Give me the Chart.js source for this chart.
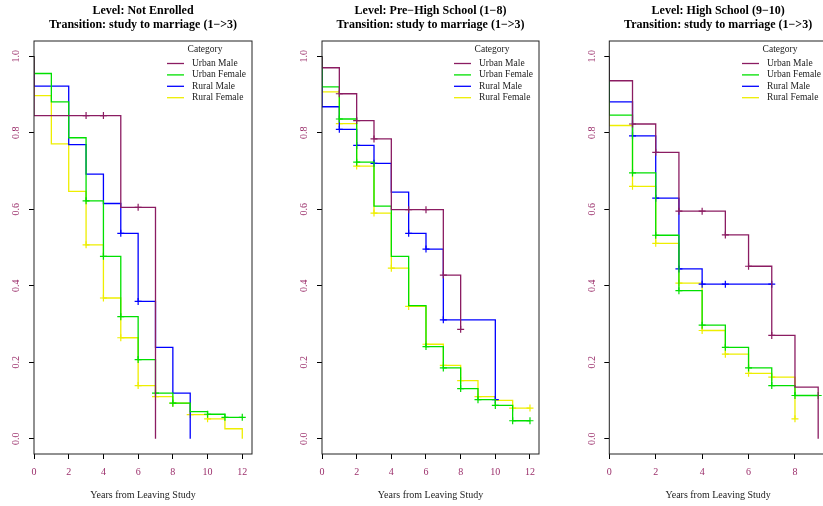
<!DOCTYPE html>
<html lang="en">
<head>
<meta charset="UTF-8">
<title>Study to marriage transition by level</title>
<script src="https://cdn.jsdelivr.net/npm/chart.js"></script>
<style>
  body { margin: 0; width: 823px; height: 506px; overflow: hidden; background: #fff; position: relative; }
  canvas { position: absolute; top: 0; }
</style>
</head>
<body>
<canvas id="p1" width="288" height="506" style="left:0px"></canvas>
<canvas id="p2" width="287" height="506" style="left:288px"></canvas>
<canvas id="p3" width="260" height="506" style="left:575px"></canvas>
<script>
// survival value just after each year 0,1,2,... (index = year)
const categories = ['Urban Male', 'Urban Female', 'Rural Male', 'Rural Female'];
const colors = ['#8B1C62', '#00E000', '#0000FF', '#EEEE00'];

// Level: Not Enrolled
const notEnrolledUrbanMale = [0.845, 0.845, 0.845, 0.845, 0.845, 0.605, 0.605, 0];
const notEnrolledUrbanFemale = [0.955, 0.881, 0.787, 0.622, 0.477, 0.319, 0.207, 0.119, 0.093, 0.071, 0.064, 0.056, 0.056];
const notEnrolledRuralMale = [0.922, 0.922, 0.769, 0.692, 0.615, 0.537, 0.359, 0.239, 0.119, 0];
const notEnrolledRuralFemale = [0.897, 0.771, 0.647, 0.507, 0.368, 0.264, 0.139, 0.110, 0.093, 0.063, 0.052, 0.026, 0];
const notEnrolledCensor = [[3, 4, 6], [3, 4, 5, 6, 7, 8, 10, 11, 12], [5, 6], [3, 4, 5, 6, 7, 8, 9, 10]];

// Level: Pre-High School (1-8)
const preHighUrbanMale = [0.970, 0.902, 0.832, 0.784, 0.599, 0.599, 0.599, 0.428, 0.286];
const preHighUrbanFemale = [0.920, 0.836, 0.723, 0.608, 0.477, 0.348, 0.241, 0.185, 0.131, 0.102, 0.087, 0.047, 0.047];
const preHighRuralMale = [0.868, 0.809, 0.767, 0.720, 0.645, 0.537, 0.496, 0.311, 0.311, 0.311, 0.102];
const preHighRuralFemale = [0.907, 0.824, 0.713, 0.590, 0.446, 0.346, 0.247, 0.192, 0.152, 0.110, 0.100, 0.080, 0.080];
const preHighCensor = [[1, 2, 3, 5, 6, 7, 8], [1, 2, 6, 7, 8, 9, 10, 11, 12], [1, 2, 3, 5, 6, 7, 10], [1, 2, 3, 4, 5, 6, 7, 8, 9, 11, 12]];

// Level: High School (9-10)
const highSchoolUrbanMale = [0.936, 0.823, 0.749, 0.595, 0.595, 0.533, 0.451, 0.270, 0.135, 0];
const highSchoolUrbanFemale = [0.846, 0.695, 0.532, 0.387, 0.297, 0.239, 0.185, 0.139, 0.113, 0.113];
const highSchoolRuralMale = [0.881, 0.792, 0.629, 0.444, 0.404, 0.404, 0.404, 0.404];
const highSchoolRuralFemale = [0.819, 0.660, 0.511, 0.407, 0.283, 0.221, 0.171, 0.161, 0.052];
const highSchoolCensor = [[1, 2, 3, 4, 5, 6, 7], [1, 2, 3, 4, 5, 6, 7, 8, 9], [1, 2, 3, 4, 5, 7], [1, 2, 3, 4, 5, 6, 7, 8]];

const xTicks12 = [0, 2, 4, 6, 8, 10, 12];
const xTicks9 = [0, 2, 4, 6, 8];
const yTicks = [0, 0.2, 0.4, 0.6, 0.8, 1.0];
const xTitle = 'Years from Leaving Study';
const tickColor = '#9B2F6B';
const serif = '"Liberation Serif", "DejaVu Serif", serif';

// box, titles, axis title and legend drawn on top of the chart
const decor = {
    id: 'decor',
    afterDraw(chart) {
        const ctx = chart.ctx;
        const a = chart.chartArea;
        const o = chart.options.plugins.decor;
        ctx.save();
        ctx.strokeStyle = '#222';
        ctx.lineWidth = 1;
        ctx.strokeRect(a.left, a.top, a.right - a.left, a.bottom - a.top);

        const cx = (a.left + a.right) / 2;
        ctx.fillStyle = '#000';
        ctx.textAlign = 'center';
        ctx.textBaseline = 'middle';
        ctx.font = 'bold 12px ' + serif;
        ctx.fillText(o.title[0], cx, 10.5);
        ctx.fillText(o.title[1], cx, 24.5);

        ctx.font = '10px ' + serif;
        ctx.fillStyle = '#222';
        ctx.fillText(xTitle, cx, 495);

        // legend
        ctx.font = '9.5px ' + serif;
        ctx.fillText('Category', a.right - 47, a.top + 8.5);
        ctx.textAlign = 'left';
        categories.forEach((c, i) => {
            const y = a.top + 22.5 + i * 11.4;
            ctx.strokeStyle = colors[i];
            ctx.lineWidth = 1.3;
            ctx.beginPath();
            ctx.moveTo(a.right - 85, y);
            ctx.lineTo(a.right - 68, y);
            ctx.stroke();
            ctx.fillStyle = '#222';
            ctx.fillText(c, a.right - 60, y);
        });
        ctx.restore();
    }
};

function stepData(vals) {
    return [{x: 0, y: 1}].concat(vals.map((v, i) => ({x: i, y: v})));
}

function makePanel(id, title, curves, censor, xMax, xTicks, padLeft, padRight) {
    const datasets = [];
    curves.forEach((vals, i) => {
        datasets.push({
            data: stepData(vals),
            stepped: true,
            borderColor: colors[i],
            borderWidth: 1.3,
            pointRadius: 0,
            fill: false
        });
        datasets.push({
            data: censor[i].map(t => ({x: t, y: vals[t]})),
            showLine: false,
            pointStyle: 'cross',
            pointRadius: 3.5,
            borderColor: colors[i],
            borderWidth: 1.2
        });
    });

    new Chart(document.getElementById(id), {
        type: 'line',
        data: {datasets: datasets},
        options: {
            responsive: false,
            animation: false,
            layout: {padding: {left: padLeft, right: padRight, top: 41, bottom: 22}},
            plugins: {
                legend: {display: false},
                tooltip: {enabled: false},
                decor: {title: title}
            },
            scales: {
                x: {
                    type: 'linear',
                    min: 0,
                    max: xMax,
                    afterBuildTicks: s => { s.ticks = xTicks.map(v => ({value: v})); },
                    afterFit: s => { s.height = 30; },
                    grid: {drawOnChartArea: false, drawTicks: true, tickLength: 5, color: '#000'},
                    border: {display: false},
                    ticks: {color: tickColor, font: {family: serif, size: 10}, padding: 7, maxRotation: 0}
                },
                y: {
                    min: -0.04,
                    max: 1.04,
                    afterBuildTicks: s => { s.ticks = yTicks.map(v => ({value: v})); },
                    afterFit: s => { s.width = 30; },
                    grid: {drawOnChartArea: false, drawTicks: true, tickLength: 5, color: '#000'},
                    border: {display: false},
                    ticks: {
                        color: tickColor,
                        font: {family: serif, size: 10},
                        minRotation: 90,
                        maxRotation: 90,
                        crossAlign: 'center',
                        padding: 6,
                        callback: v => v.toFixed(1)
                    }
                }
            }
        },
        plugins: [decor]
    });
}

makePanel('p1', ['Level: Not Enrolled', 'Transition: study to marriage (1\u2212>3)'],
    [notEnrolledUrbanMale, notEnrolledUrbanFemale, notEnrolledRuralMale, notEnrolledRuralFemale],
    notEnrolledCensor, 12.56, xTicks12, 4, 36);
makePanel('p2', ['Level: Pre\u2212High School (1\u22128)', 'Transition: study to marriage (1\u2212>3)'],
    [preHighUrbanMale, preHighUrbanFemale, preHighRuralMale, preHighRuralFemale],
    preHighCensor, 12.52, xTicks12, 4, 36);
makePanel('p3', ['Level: High School (9\u221210)', 'Transition: study to marriage (1\u2212>3)'],
    [highSchoolUrbanMale, highSchoolUrbanFemale, highSchoolRuralMale, highSchoolRuralFemale],
    highSchoolCensor, 9.38, xTicks9, 4.3, 8);
</script>
</body>
</html>
